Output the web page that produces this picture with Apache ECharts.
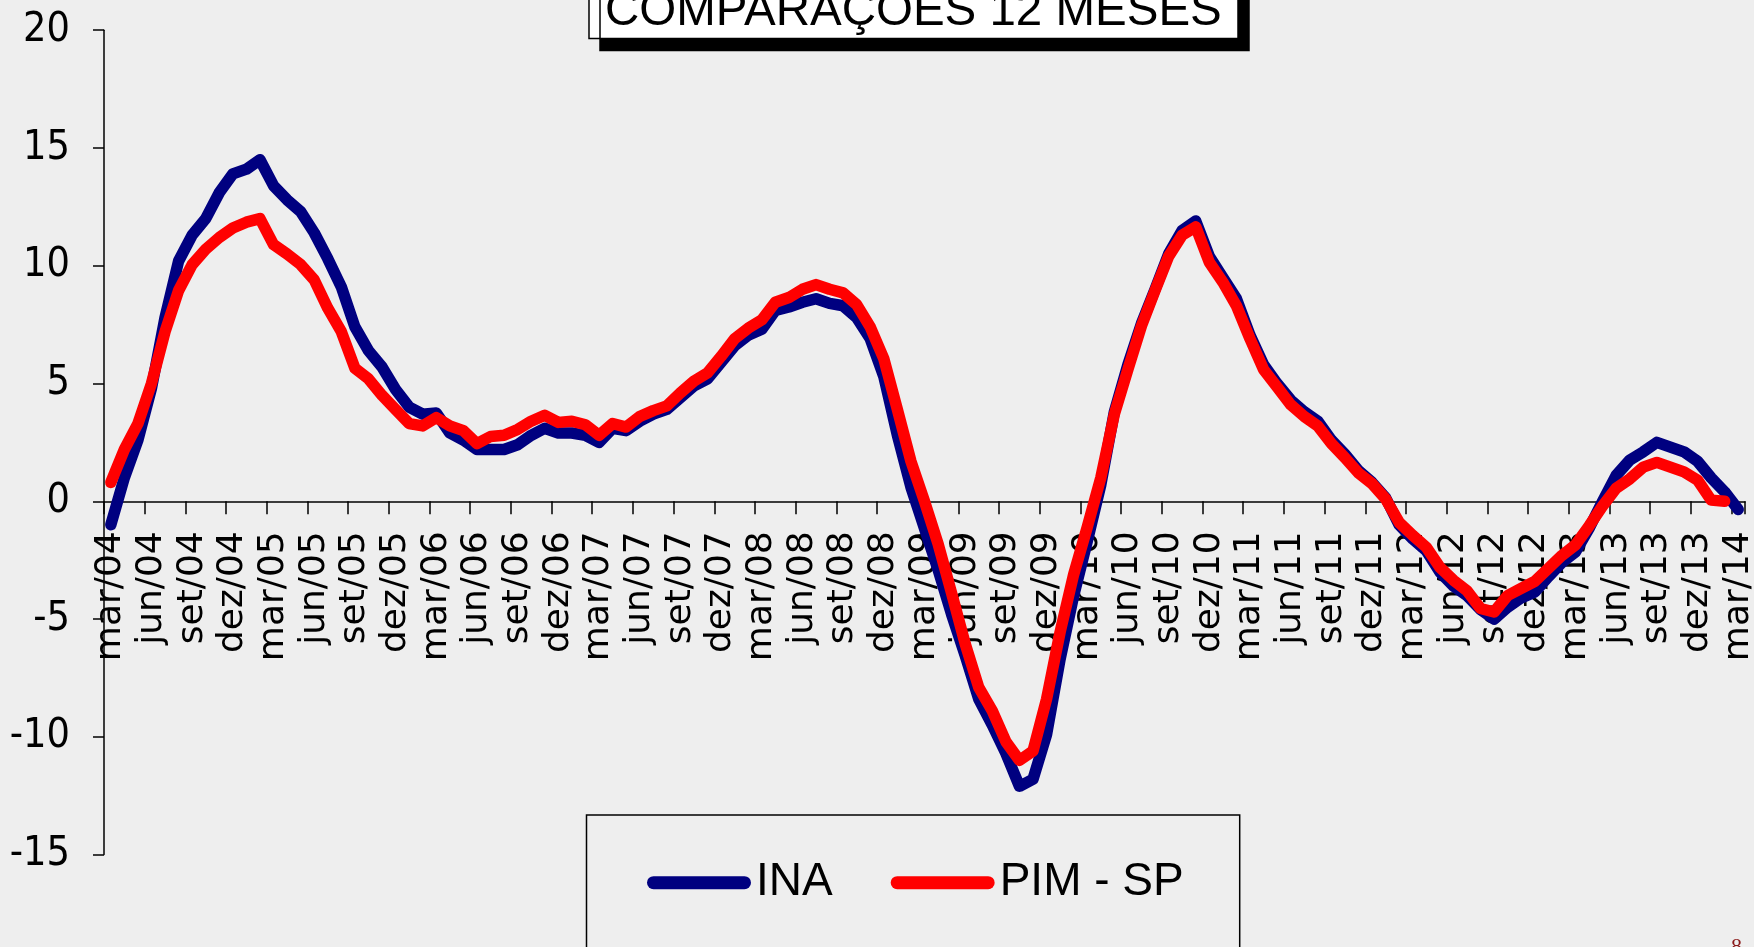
<!DOCTYPE html>
<html>
<head>
<meta charset="utf-8">
<script src="https://cdn.jsdelivr.net/npm/echarts@6/dist/echarts.min.js"></script>
<style>
html,body{margin:0;padding:0;background:#eeeeee;}
#chart{width:1754px;height:947px;}
</style>
</head>
<body>
<div id="chart"></div>
<script>
// Category labels (monthly, mar/04 .. mar/14)
const categories = [
  'mar/04','abr/04','mai/04','jun/04','jul/04','ago/04','set/04','out/04','nov/04','dez/04',
  'jan/05','fev/05','mar/05','abr/05','mai/05','jun/05','jul/05','ago/05','set/05','out/05','nov/05','dez/05',
  'jan/06','fev/06','mar/06','abr/06','mai/06','jun/06','jul/06','ago/06','set/06','out/06','nov/06','dez/06',
  'jan/07','fev/07','mar/07','abr/07','mai/07','jun/07','jul/07','ago/07','set/07','out/07','nov/07','dez/07',
  'jan/08','fev/08','mar/08','abr/08','mai/08','jun/08','jul/08','ago/08','set/08','out/08','nov/08','dez/08',
  'jan/09','fev/09','mar/09','abr/09','mai/09','jun/09','jul/09','ago/09','set/09','out/09','nov/09','dez/09',
  'jan/10','fev/10','mar/10','abr/10','mai/10','jun/10','jul/10','ago/10','set/10','out/10','nov/10','dez/10',
  'jan/11','fev/11','mar/11','abr/11','mai/11','jun/11','jul/11','ago/11','set/11','out/11','nov/11','dez/11',
  'jan/12','fev/12','mar/12','abr/12','mai/12','jun/12','jul/12','ago/12','set/12','out/12','nov/12','dez/12',
  'jan/13','fev/13','mar/13','abr/13','mai/13','jun/13','jul/13','ago/13','set/13','out/13','nov/13','dez/13',
  'jan/14','fev/14','mar/14'
];

// INA (navy)
const ina = [
  -1.0, 1.0, 2.6, 4.8, 7.8, 10.2, 11.3, 12.0, 13.1, 13.9,
  14.1, 14.5, 13.4, 12.8, 12.3, 11.4, 10.3, 9.1, 7.4, 6.4, 5.7, 4.75,
  4.0, 3.7, 3.75, 2.9, 2.6, 2.2, 2.2, 2.2, 2.4, 2.8, 3.1, 2.9,
  2.9, 2.8, 2.5, 3.1, 3.0, 3.4, 3.7, 3.9, 4.4, 4.9, 5.2, 5.9,
  6.6, 7.05, 7.3, 8.1, 8.25, 8.45, 8.6, 8.4, 8.3, 7.8, 6.9, 5.3,
  2.8, 0.6, -1.15, -2.9, -4.8, -6.55, -8.4, -9.5, -10.7, -12.1, -11.8, -9.9,
  -6.7, -4.0, -1.7, 0.7, 3.8, 5.8, 7.55, 9.0, 10.5, 11.5, 11.9, 10.4,
  9.5, 8.6, 7.05, 5.8, 5.0, 4.3, 3.8, 3.4, 2.6, 2.0, 1.3, 0.8,
  0.15, -1.0, -1.6, -2.1, -3.0, -3.6, -4.0, -4.6, -5.0, -4.5, -4.1, -3.85,
  -3.2, -2.6, -2.15, -1.15, 0.0, 1.1, 1.75, 2.1, 2.5, 2.3, 2.1, 1.7,
  1.0, 0.4, -0.35
];

// PIM - SP (red)
const pimSp = [
  0.8, 2.2, 3.3, 5.0, 7.2, 8.95, 10.05, 10.7, 11.2, 11.6,
  11.85, 12.0, 10.9, 10.5, 10.05, 9.4, 8.2, 7.2, 5.65, 5.2, 4.5, 3.9,
  3.3, 3.2, 3.55, 3.2, 3.0, 2.45, 2.75, 2.8, 3.05, 3.4, 3.65, 3.35,
  3.4, 3.25, 2.8, 3.3, 3.15, 3.6, 3.85, 4.05, 4.6, 5.1, 5.45, 6.15,
  6.9, 7.35, 7.7, 8.45, 8.65, 9.0, 9.2, 9.0, 8.85, 8.35, 7.4, 6.05,
  3.9, 1.7, 0.0, -1.8, -3.9, -6.05, -7.9, -8.9, -10.2, -11.0, -10.6, -8.4,
  -5.55, -3.1, -1.1, 1.0, 3.7, 5.6, 7.45, 8.95, 10.4, 11.3, 11.65, 10.15,
  9.3, 8.3, 6.9, 5.6, 4.85, 4.1, 3.6, 3.2, 2.45, 1.85, 1.2, 0.75,
  0.1, -0.9, -1.45, -1.95, -2.8, -3.35, -3.8, -4.55, -4.7, -4.0, -3.7, -3.4,
  -2.85, -2.3, -1.85, -1.05, -0.2, 0.55, 0.95, 1.45, 1.65, 1.45, 1.25, 0.9,
  0.05, 0.0, null
];

const seriesNames = ['INA', 'PIM - SP'];
const titleText = 'COMPARAÇÕES 12 MESES';
const yMin = -15, yMax = 20, yStep = 5;

// layout (pixels)
const gridTop = 30.2, gridBottomPx = 854.6;
const zeroOffset = -(gridBottomPx - gridTop) * (0 - yMin) / (yMax - yMin);

const chart = echarts.init(document.getElementById('chart'), null, {renderer: 'canvas'});
const pill = 'path://M6.5,0L97.5,0A6.5,6.5,0,0,1,97.5,13L6.5,13A6.5,6.5,0,0,1,6.5,0Z';

chart.setOption({
  animation: false,
  backgroundColor: '#eeeeee',
  title: {
    text: titleText,
    left: 589,
    top: -21.4,
    padding: [10, 16, 3, 16],
    backgroundColor: '#ffffff',
    borderColor: '#000000',
    borderWidth: 1.5,
    shadowColor: '#000000',
    shadowBlur: 0,
    shadowOffsetX: 11,
    shadowOffsetY: 12,
    textStyle: {
      fontFamily: 'Liberation Sans',
      fontSize: 47.5,
      fontWeight: 'normal',
      color: '#000000',
      lineHeight: 47
    }
  },
  legend: {
    data: seriesNames,
    left: 586.5,
    top: 815,
    orient: 'horizontal',
    padding: [44.7, 56, 60, 60.5],
    borderColor: '#000000',
    borderWidth: 1.5,
    itemWidth: 104,
    itemHeight: 13,
    itemGap: 58,
    icon: pill,
    itemStyle: {borderWidth: 0},
    textStyle: {
      fontFamily: 'Liberation Sans',
      fontSize: 46,
      color: '#000000',
      lineHeight: 46
    }
  },
  grid: {
    left: 104,
    right: 9,
    top: gridTop,
    bottom: 947 - gridBottomPx,
    containLabel: false,
    outerBoundsMode: 'none'
  },
  xAxis: {
    type: 'category',
    data: categories,
    boundaryGap: true,
    position: 'bottom',
    offset: zeroOffset,
    axisLine: {onZero: false, lineStyle: {color: '#000000', width: 1.5}},
    axisTick: {show: true, interval: 2, length: 13, lineStyle: {color: '#000000', width: 1.5}},
    axisLabel: {
      interval: 2,
      rotate: 90,
      margin: 30,
      fontFamily: 'DejaVu Sans',
      fontSize: 36,
      color: '#000000'
    },
    splitLine: {show: false}
  },
  yAxis: {
    type: 'value',
    min: yMin,
    max: yMax,
    interval: yStep,
    axisLine: {show: true, lineStyle: {color: '#000000', width: 1.5}},
    axisTick: {show: true, length: 11, lineStyle: {color: '#000000', width: 1.5}},
    axisLabel: {
      margin: 34,
      fontFamily: "'Liberation Sans Narrow', 'DejaVu Sans Condensed', 'Liberation Sans'",
      fontSize: 41,
      color: '#000000'
    },
    splitLine: {show: false}
  },
  graphic: [{
    type: 'text',
    left: 1731,
    top: 936,
    style: {text: '8', fontSize: 22, fontFamily: 'Liberation Serif', fill: '#8b1a1a'}
  }],
  series: [
    {
      name: seriesNames[0],
      type: 'line',
      data: ina,
      showSymbol: false,
      symbol: 'none',
      color: '#000080',
      itemStyle: {color: '#000080'},
      lineStyle: {color: '#000080', width: 11.5, cap: 'round', join: 'round'}
    },
    {
      name: seriesNames[1],
      type: 'line',
      data: pimSp,
      showSymbol: false,
      symbol: 'none',
      color: '#ff0000',
      itemStyle: {color: '#ff0000'},
      lineStyle: {color: '#ff0000', width: 11.5, cap: 'round', join: 'round'}
    }
  ]
});
</script>
</body>
</html>
